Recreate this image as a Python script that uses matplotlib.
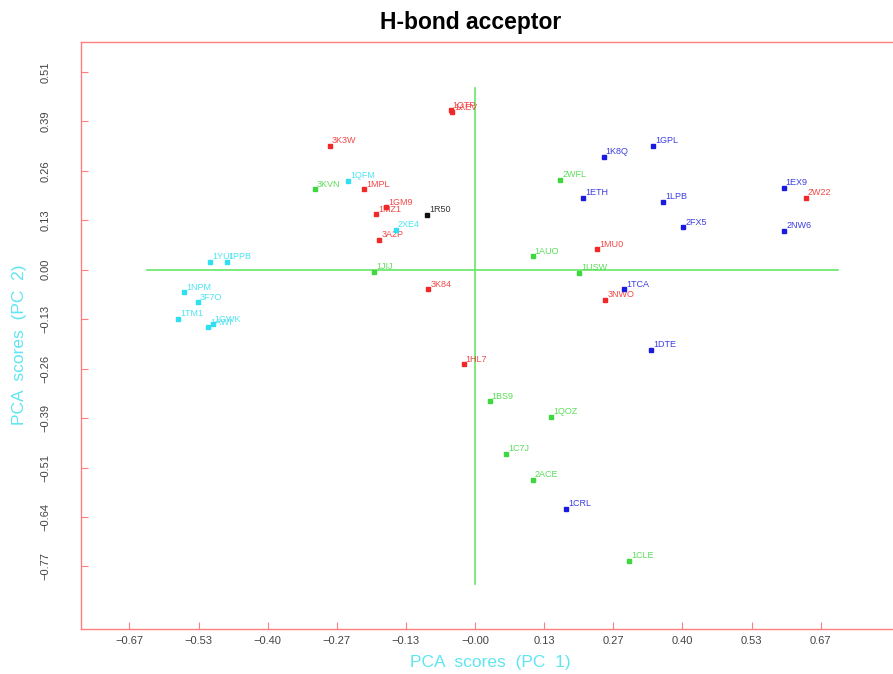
import matplotlib
matplotlib.use("Agg")
import matplotlib.pyplot as plt

# PCA scores (PC 1, PC 2)
red_names = ["1QTP", "1AEV", "3K3W", "1MPL", "1GM9", "1MZ1", "3A2P", "3K84",
             "2W22", "1MU0", "3NWO", "1HL7"]
red_pc1 = [-0.047, -0.044, -0.280, -0.214, -0.172, -0.191, -0.185, -0.090,
           0.638, 0.235, 0.251, -0.022]
red_pc2 = [0.414, 0.409, 0.322, 0.209, 0.162, 0.144, 0.077, -0.051,
           0.186, 0.053, -0.079, -0.246]

blue_names = ["1GPL", "1K8Q", "1ETH", "1LPB", "1EX9", "2FX5", "2NW6", "1TCA",
              "1DTE", "1CRL"]
blue_pc1 = [0.343, 0.248, 0.208, 0.363, 0.595, 0.401, 0.596, 0.288, 0.340, 0.176]
blue_pc2 = [0.322, 0.294, 0.186, 0.176, 0.212, 0.110, 0.101, -0.051, -0.209, -0.622]

green_names = ["3KVN", "2WFL", "1AUO", "1JIJ", "1USW", "1BS9", "1QOZ", "1C7J",
               "2ACE", "1CLE"]
green_pc1 = [-0.309, 0.164, 0.111, -0.194, 0.201, 0.028, 0.147, 0.060, 0.111, 0.297]
green_pc2 = [0.209, 0.233, 0.035, -0.006, -0.008, -0.342, -0.383, -0.478, -0.546, -0.756]

cyan_names = ["1QFM", "2XE4", "1YUI", "1PPB", "1NPM", "3F7O", "1TM1", "1GWK", "1AWI"]
cyan_pc1 = [-0.245, -0.153, -0.511, -0.479, -0.561, -0.535, -0.573, -0.506, -0.515]
cyan_pc2 = [0.231, 0.103, 0.020, 0.020, -0.059, -0.085, -0.127, -0.142, -0.150]

black_names = ["1R50"]
black_pc1 = [-0.093]
black_pc2 = [0.143]

xticks = [-0.6667, -0.5333, -0.4, -0.2667, -0.1333, 0.0, 0.1333, 0.2667, 0.4, 0.5333, 0.6667]
xtick_labels = ["\u22120.67", "\u22120.53", "\u22120.40", "\u22120.27", "\u22120.13", "\u22120.00",
                "0.13", "0.27", "0.40", "0.53", "0.67"]
yticks = [0.5143, 0.3857, 0.2571, 0.1286, 0.0, -0.1286, -0.2571, -0.3857, -0.5143, -0.6429, -0.7714]
ytick_labels = ["0.51", "0.39", "0.26", "0.13", "0.00", "\u22120.13", "\u22120.26", "\u22120.39",
                "\u22120.51", "\u22120.64", "\u22120.77"]

groups = [
    (red_names, red_pc1, red_pc2, "#f02828"),
    (blue_names, blue_pc1, blue_pc2, "#1a1ae0"),
    (green_names, green_pc1, green_pc2, "#3ed83e"),
    (cyan_names, cyan_pc1, cyan_pc2, "#2ee0f0"),
    (black_names, black_pc1, black_pc2, "#111111"),
]

plt.rcParams['font.family'] = ['Liberation Sans', 'DejaVu Sans']

fig = plt.figure(figsize=(8.93, 6.74), dpi=100)
ax = fig.add_axes([81 / 893, 1 - 629 / 674, 812 / 893, 587 / 674])

# crosshair through the origin
ax.plot([-0.633, 0.700], [0, 0], color="#66e866", lw=1.2, zorder=1)
ax.plot([0, 0], [0.473, -0.816], color="#66e866", lw=1.2, zorder=1)

for names, xs, ys, col in groups:
    ax.plot(xs, ys, "s", color=col, ms=3, zorder=3)
    for n, x, y in zip(names, xs, ys):
        ax.annotate(n, (x, y), xytext=(1.5, 0.5), textcoords="offset points",
                    fontsize=6.5, color=col, alpha=0.85, va="bottom", ha="left")

ax.set_xlim(-0.760, 0.806)
ax.set_ylim(-0.934, 0.592)

frame_col = "#ff7f7f"
for side in ["left", "top", "bottom"]:
    ax.spines[side].set_color(frame_col)
    ax.spines[side].set_linewidth(1.0)
ax.spines["right"].set_visible(False)

ax.set_xticks(xticks)
ax.set_xticklabels(xtick_labels)
ax.set_yticks(yticks)
ax.set_yticklabels(ytick_labels, rotation=90, va="center")
ax.tick_params(direction="in", length=5, color=frame_col, labelcolor="#444444",
               labelsize=8)
ax.tick_params(axis="y", pad=22)
ax.tick_params(axis="x", pad=5)

fig.text(490 / 893, 1 - 662 / 674, "PCA  scores  (PC  1)", color="#5fe6f0",
         fontsize=12.5, ha="center", va="center")
fig.text(20 / 893, 1 - 345 / 674, "PCA  scores  (PC  2)", color="#5fe6f0",
         fontsize=12.5, ha="center", va="center", rotation=90)
fig.text(471 / 893, 1 - 22 / 674, "H-bond acceptor", fontsize=16.5,
         fontweight="bold", ha="center", va="center")

fig.savefig("out.png", dpi=100)
